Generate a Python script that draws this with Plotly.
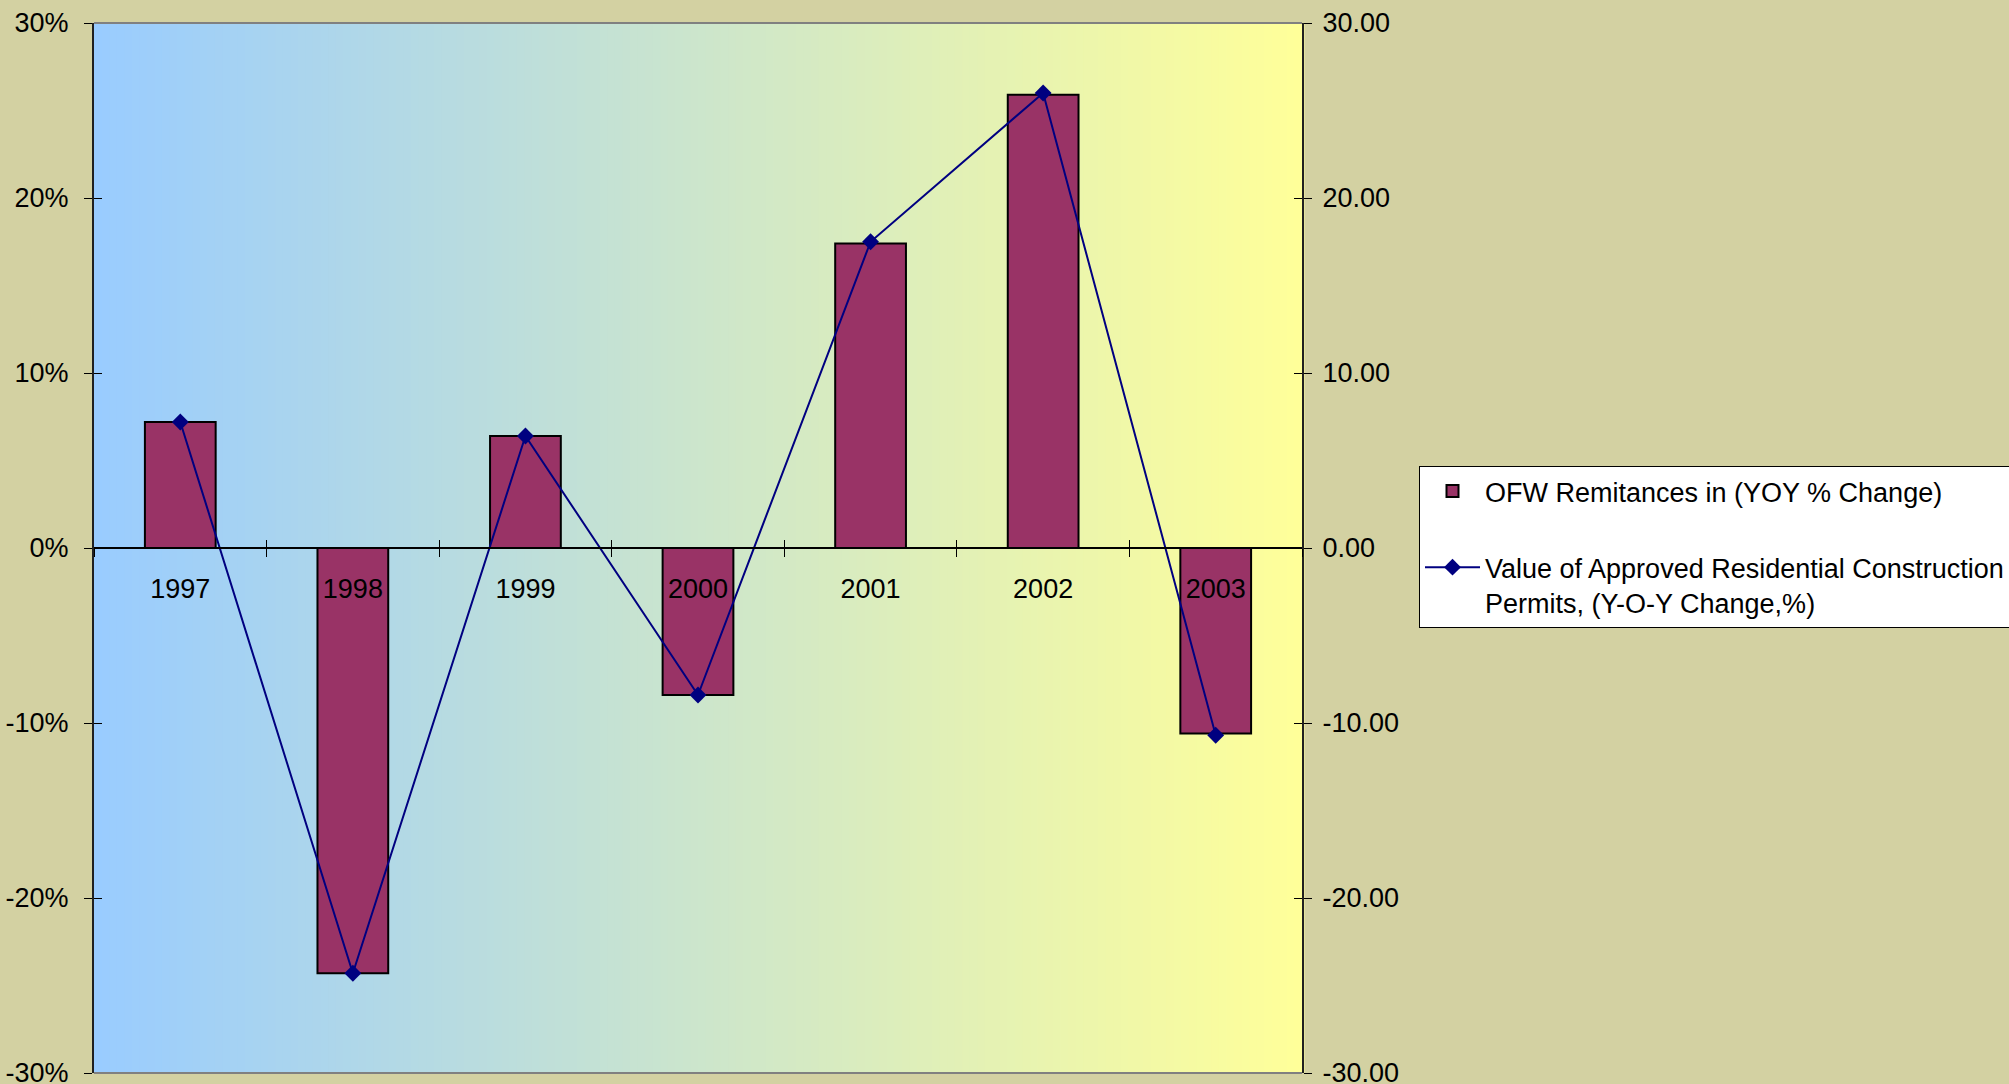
import numpy as np
import plotly.graph_objects as go

# Year-over-year changes, 1997-2003
years = ["1997", "1998", "1999", "2000", "2001", "2002", "2003"]
ofw_remittances = [7.2, -24.3, 6.4, -8.4, 17.4, 25.9, -10.6]          # % change (left axis)
residential_permits = [7.2, -24.3, 6.4, -8.4, 17.5, 26.0, -10.7]      # % change (right axis)

left_tick_vals = [30, 20, 10, 0, -10, -20, -30]
left_tick_text = ["30%", "20%", "10%", "0%", "-10%", "-20%", "-30%"]
right_tick_text = ["30.00", "20.00", "10.00", "0.00", "-10.00", "-20.00", "-30.00"]

bar_name = "OFW Remitances in (YOY % Change)"
line_name = "Value of Approved Residential Construction<br>Permits, (Y-O-Y Change,%)"

FONT = "Liberation Sans, Arial, sans-serif"
FS = 27
W, H = 2009, 1084
ML, MR, MT, MB = 94, 707, 23, 11

fig = go.Figure()

fig.add_trace(go.Bar(
    x=years, y=ofw_remittances, name=bar_name,
    marker=dict(color="#993366", line=dict(color="black", width=2)),
    xaxis="x", yaxis="y", legendgroup="a",
))
fig.add_trace(go.Scatter(
    x=years, y=residential_permits, name=line_name,
    mode="lines+markers",
    line=dict(color="#000080", width=2),
    marker=dict(symbol="diamond", size=13, color="#000080"),
    xaxis="x", yaxis="y2", legendgroup="b",
))
# empty traces so the inner-tick helper axes get drawn
for xa, ya in (("x2", "y"), ("x", "y3"), ("x", "y4")):
    fig.add_trace(go.Scatter(x=[], y=[], xaxis=xa, yaxis=ya, showlegend=False,
                             hoverinfo="skip", mode="markers"))

# plot-area gradient: light blue on the left to light yellow on the right
n_strips = 160
c0 = np.array([153, 204, 255])
c1 = np.array([255, 255, 153])
shapes = []
for i in range(n_strips):
    t = (i + 0.5) / n_strips
    c = np.round(c0 + (c1 - c0) * t).astype(int)
    shapes.append(dict(
        type="rect", xref="paper", yref="paper",
        x0=i / n_strips, x1=(i + 1) / n_strips + 0.002, y0=0, y1=1,
        fillcolor=f"rgb({c[0]},{c[1]},{c[2]})", line=dict(width=0), layer="below",
    ))
# top and bottom frame of the plot area
for yy in (0, 1):
    shapes.append(dict(type="line", xref="paper", yref="paper", x0=0, x1=1, y0=yy, y1=yy,
                       line=dict(color="#808080", width=2), layer="above"))

yrange = [-30, 30]
tickfont = dict(family=FONT, size=FS, color="black")
inner_ticks = dict(ticks="inside", ticklen=8, tickwidth=1, tickcolor="black",
                   showticklabels=False, showline=False, showgrid=False, zeroline=False)

fig.update_layout(
    width=W, height=H,
    margin=dict(l=ML, r=MR, t=MT, b=MB, autoexpand=False),
    paper_bgcolor="#d3d1a2",
    plot_bgcolor="rgba(0,0,0,0)",
    template="none",
    barmode="group",
    bargap=0.59,
    shapes=shapes,
    font=dict(family=FONT, size=FS, color="black"),
    xaxis=dict(
        type="category", categoryorder="array", categoryarray=years,
        range=[-0.5, 6.5],
        anchor="free", position=0.5,
        showline=True, linecolor="black", linewidth=1.5,
        ticks="outside", ticklen=8, tickwidth=1, tickcolor="black", tickson="boundaries",
        showgrid=False, zeroline=False,
        tickfont=tickfont, ticklabelstandoff=17,
    ),
    xaxis2=dict(
        overlaying="x", anchor="free", position=0.5, range=[-0.5, 6.5],
        tick0=0.5, dtick=1, **inner_ticks,
    ),
    yaxis=dict(
        range=yrange, tickvals=left_tick_vals, ticktext=left_tick_text,
        showline=True, linecolor="#202020", linewidth=2,
        ticks="outside", ticklen=8, tickwidth=1, tickcolor="black",
        showgrid=False, zeroline=False, tickfont=tickfont, ticklabelstandoff=10,
        ticklabeloverflow="allow",
    ),
    yaxis3=dict(
        overlaying="y", side="left", anchor="x", range=yrange, tickvals=left_tick_vals,
        **inner_ticks,
    ),
    yaxis2=dict(
        overlaying="y", side="right", anchor="x", range=yrange,
        tickvals=left_tick_vals, ticktext=right_tick_text,
        showline=True, linecolor="#202020", linewidth=2,
        ticks="outside", ticklen=8, tickwidth=1, tickcolor="black",
        showgrid=False, zeroline=False, tickfont=tickfont, ticklabelstandoff=5,
        ticklabeloverflow="allow",
    ),
    yaxis4=dict(
        overlaying="y", side="right", anchor="x", range=yrange, tickvals=left_tick_vals,
        **inner_ticks,
    ),
    legend=dict(
        x=(1419 - ML) / (W - ML - MR), y=(H - MB - 466) / (H - MT - MB),
        xanchor="left", yanchor="top",
        bgcolor="white", bordercolor="black", borderwidth=1,
        font=dict(family=FONT, size=FS, color="black"),
        tracegroupgap=38, valign="top", itemwidth=55,
        traceorder="grouped",
    ),
    showlegend=True,
)

fig.write_html("out.html")
